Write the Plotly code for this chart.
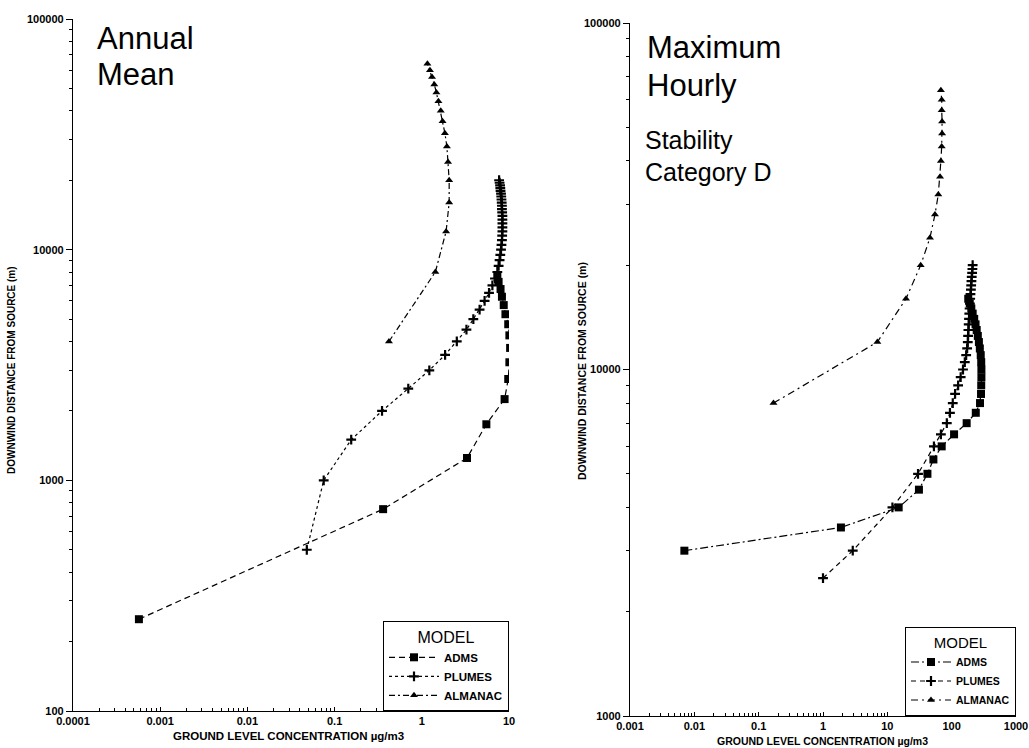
import plotly.graph_objects as go

# ---------------- data: Annual Mean (left) ----------------
adms_dist_l = [250, 750, 1250, 1750, 2250, 2750, 3250, 3750, 4250, 4750, 5250, 5750, 6250, 6750, 7250, 7750]
adms_conc_l = [0.00057, 0.36, 3.3, 5.5, 8.9, 9.8, 10.1, 10.3, 10.1, 9.8, 9.1, 8.7, 8.3, 8.0, 7.6, 7.35]

plumes_dist_l = [500, 1000, 1500, 2000, 2500, 3000, 3500, 4000, 4500, 5000,
                 5500, 6000, 6500, 7000, 7500, 8000, 8500, 9000, 9500, 10000,
                 10500, 11000, 11500, 12000, 12500, 13000, 13500, 14000, 14500, 15000,
                 15500, 16000, 16500, 17000, 17500, 18000, 18500, 19000, 19500, 20000]
plumes_conc_l = [0.048, 0.075, 0.155, 0.35, 0.70, 1.22, 1.85, 2.52, 3.25, 3.9,
                 4.6, 5.25, 5.9, 6.45, 6.9, 7.35, 7.6, 7.8, 7.95, 8.1,
                 8.2, 8.3, 8.35, 8.4, 8.4, 8.4, 8.4, 8.4, 8.35, 8.3,
                 8.3, 8.25, 8.2, 8.15, 8.1, 8.0, 7.95, 7.9, 7.8, 7.7]

almanac_dist_l = [4000, 8000, 12000, 16000, 20000, 24000, 28000, 32000,
                  36000, 40000, 44000, 48000, 52000, 56000, 60000, 64000]
almanac_conc_l = [0.42, 1.43, 1.9, 2.06, 2.06, 2.0, 1.94, 1.84,
                  1.73, 1.65, 1.55, 1.47, 1.39, 1.31, 1.24, 1.16]

# ---------------- data: Maximum Hourly (right) ----------------
adms_dist_r = [3000, 3500, 4000, 4500, 5000, 5500, 6000, 6500, 7000, 7500,
               8000, 8500, 9000, 9500, 10000, 10500, 11000, 11500, 12000, 12500,
               13000, 13500, 14000, 14500, 15000, 15500, 16000]
adms_conc_r = [0.007, 1.9, 15, 31, 42, 52, 70, 109, 171, 237,
               276, 286, 288, 290, 290, 288, 283, 274, 265, 255,
               245, 235, 224, 212, 202, 191, 181]

plumes_dist_r = [2500, 3000, 4000, 5000, 6000, 6500, 7000, 7500, 8000, 8500,
                 9000, 9500, 10000, 10500, 11000, 11500, 12000, 12500, 13000, 13500,
                 14000, 14500, 15000, 15500, 16000, 16500, 17000, 17500, 18000, 18500,
                 19000, 19500, 20000]
plumes_conc_r = [1.0, 2.9, 12, 30, 53, 68, 84, 94, 104, 113,
                 126, 138, 150, 160, 168, 174, 178, 180, 182, 184,
                 186, 188, 190, 192, 194, 196, 199, 201, 203, 205,
                 208, 210, 212]

almanac_dist_r = [8000, 12000, 16000, 20000, 24000, 28000, 32000, 36000,
                  40000, 44000, 48000, 52000, 56000, 60000, 64000]
almanac_conc_r = [0.17, 7.0, 19.5, 33, 46, 55, 62, 66,
                  68, 70, 71, 71, 70, 70, 68]

# tick labels
xticks_l = ["0.0001", "0.001", "0.01", "0.1", "1", "10"]
xticks_r = ["0.001", "0.01", "0.1", "1", "10", "100", "1000"]
yticks_l = ["100", "1000", "10000", "100000"]
yticks_r = ["1000", "10000", "100000"]

series_names = ["ADMS", "PLUMES", "ALMANAC"]

W, H = 1029, 748
FONT = "Liberation Sans"

fig = go.Figure()

def add(x, y, name, sym, size, dash, xa, ya, leg, lw=1.2):
    mk = dict(symbol=sym, size=size, color="black")
    if sym == "cross-thin":
        mk["line"] = dict(color="black", width=2.2)
    fig.add_trace(go.Scatter(
        x=x, y=y, name=name, mode="lines+markers",
        line=dict(color="black", width=lw, dash=dash),
        marker=mk, xaxis=xa, yaxis=ya, legend=leg))

add(adms_conc_l, adms_dist_l, series_names[0], "square", 8, "6px,4px", "x", "y", "legend")
add(plumes_conc_l, plumes_dist_l, series_names[1], "cross-thin", 7, "3px,3px", "x", "y", "legend")
add(almanac_conc_l, almanac_dist_l, series_names[2], "triangle-up", 7, "6px,3px,2px,3px", "x", "y", "legend")

add(adms_conc_r, adms_dist_r, series_names[0], "square", 8, "8px,3px,2px,3px", "x2", "y2", "legend2")
add(plumes_conc_r, plumes_dist_r, series_names[1], "cross-thin", 7, "5px,4px", "x2", "y2", "legend2")
add(almanac_conc_r, almanac_dist_r, series_names[2], "triangle-up", 7, "7px,4px,2px,4px", "x2", "y2", "legend2")

def minor_vals(lo, hi):
    return [m * 10.0 ** e for e in range(lo, hi) for m in range(2, 10)]

def px_x(a, b):
    return [a / W, b / W]

def px_y(top, bottom):
    return [1 - bottom / H, 1 - top / H]

tickfont = dict(family=FONT, size=11, color="black", weight="bold")

xcommon = dict(type="log", showgrid=False, showline=True, linecolor="black", linewidth=1.2,
               ticks="inside", ticklen=4, tickcolor="black", tickfont=tickfont,
               zeroline=False, tickmode="array", automargin=False)
ycommon = dict(type="log", showgrid=False, showline=True, linecolor="black", linewidth=1.2,
               ticks="outside", ticklen=6, tickcolor="black", tickfont=tickfont,
               zeroline=False, tickmode="array", automargin=False)

L = (73, 509, 19, 711)
R = (630, 1016, 23, 716)

legend_common = dict(xanchor="right", yanchor="bottom",
                     bgcolor="white", bordercolor="black", borderwidth=1,
                     tracegroupgap=0)

fig.update_layout(
    template="plotly_white",
    width=W, height=H, autosize=False,
    margin=dict(l=0, r=0, t=0, b=0, pad=0),
    paper_bgcolor="white", plot_bgcolor="white",
    font=dict(family=FONT, color="black"),
    xaxis=dict(xcommon, domain=px_x(L[0], L[1]), range=[-4, 1], anchor="y",
               tickvals=[1e-4, 1e-3, 1e-2, 1e-1, 1, 10], ticktext=xticks_l,
               minor=dict(tickmode="array", tickvals=minor_vals(-4, 1), ticks="inside",
                          ticklen=3, tickcolor="black", showgrid=False)),
    yaxis=dict(ycommon, domain=px_y(L[2], L[3]), range=[2, 5], anchor="x",
               tickvals=[100, 1000, 10000, 100000], ticktext=yticks_l,
               minor=dict(tickmode="array", tickvals=minor_vals(2, 5), ticks="outside",
                          ticklen=3, tickcolor="black", showgrid=False)),
    xaxis2=dict(xcommon, domain=px_x(R[0], R[1]), range=[-3, 3], anchor="y2",
                tickvals=[1e-3, 1e-2, 1e-1, 1, 10, 100, 1000], ticktext=xticks_r,
                minor=dict(tickmode="array", tickvals=minor_vals(-3, 3), ticks="inside",
                           ticklen=3, tickcolor="black", showgrid=False)),
    yaxis2=dict(ycommon, domain=px_y(R[2], R[3]), range=[3, 5], anchor="x2",
                tickvals=[1000, 10000, 100000], ticktext=yticks_r,
                minor=dict(tickmode="array", tickvals=minor_vals(3, 5), ticks="outside",
                           ticklen=3, tickcolor="black", showgrid=False)),
    legend=dict(legend_common, x=L[1] / W, y=1 - L[3] / H, itemwidth=50,
                title=dict(text="MODEL", side="top center",
                           font=dict(size=16, family=FONT, weight="normal")),
                font=dict(size=11.5, family=FONT, weight="bold")),
    legend2=dict(legend_common, x=R[1] / W, y=1 - R[3] / H, itemwidth=40,
                 title=dict(text="MODEL", side="top center",
                            font=dict(size=15, family=FONT, weight="normal")),
                 font=dict(size=10.5, family=FONT, weight="bold")),
    showlegend=True,
)

def txt(s, x, y, size):
    return dict(text=s, x=x / W, y=1 - y / H, xref="paper", yref="paper",
                xanchor="left", yanchor="middle", showarrow=False, align="left",
                font=dict(size=size, family=FONT, color="black"))

ann = [
    txt("Annual", 95, 39, 31),
    txt("Mean", 95, 75, 31),
    txt("Maximum", 645, 47, 31),
    txt("Hourly", 645, 85, 31),
    txt("Stability", 643, 140, 25),
    txt("Category D", 643, 172, 25),
]
ann.append(dict(text="DOWNWIND DISTANCE FROM SOURCE (m)", x=11 / W, y=1 - 370 / H,
                xref="paper", yref="paper", textangle=-90, showarrow=False,
                xanchor="center", yanchor="middle",
                font=dict(size=10, family=FONT, color="black", weight="bold")))
ann.append(dict(text="DOWNWIND DISTANCE FROM SOURCE (m)", x=582 / W, y=1 - 371 / H,
                xref="paper", yref="paper", textangle=-90, showarrow=False,
                xanchor="center", yanchor="middle",
                font=dict(size=10.5, family=FONT, color="black", weight="bold")))
ann.append(dict(text="GROUND LEVEL CONCENTRATION µg/m3", x=288 / W, y=1 - 736 / H,
                xref="paper", yref="paper", showarrow=False,
                xanchor="center", yanchor="middle",
                font=dict(size=11.5, family=FONT, color="black", weight="bold")))
ann.append(dict(text="GROUND LEVEL CONCENTRATION µg/m3", x=822 / W, y=1 - 741 / H,
                xref="paper", yref="paper", showarrow=False,
                xanchor="center", yanchor="middle",
                font=dict(size=10.5, family=FONT, color="black", weight="bold")))
fig.update_layout(annotations=ann)

fig.write_html("out.html", config={"displayModeBar": False},
               post_script="document.body.style.margin='0';document.body.style.overflow='hidden';")
